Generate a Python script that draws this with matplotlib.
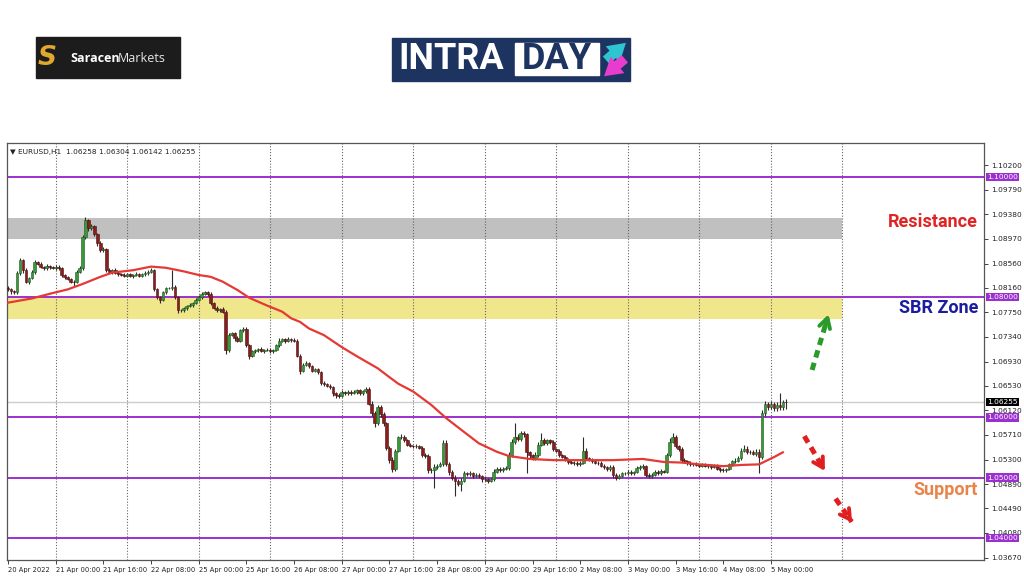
import matplotlib
matplotlib.use('Agg')
import matplotlib.pyplot as plt
from matplotlib.patches import Rectangle, FancyArrowPatch
import numpy as np

# EURUSD H1 closes, in pips (1e-4), one row per 16 bars
closes = [
    10813, 10810, 10808, 10840, 10862, 10845, 10825, 10832, 10842, 10858, 10855, 10850, 10848, 10852, 10850, 10849,
    10851, 10848, 10837, 10833, 10830, 10826, 10825, 10842, 10848, 10900, 10928, 10915, 10918, 10905, 10890, 10878,
    10880, 10845, 10842, 10845, 10840, 10838, 10837, 10836, 10838, 10835, 10837, 10839, 10836, 10838, 10840, 10842,
    10845, 10813, 10800, 10795, 10808, 10815, 10815, 10817, 10800, 10778, 10778, 10782, 10785, 10787, 10790, 10795,
    10800, 10805, 10808, 10805, 10790, 10782, 10778, 10780, 10776, 10712, 10738, 10740, 10732, 10728, 10745, 10748,
    10720, 10703, 10710, 10712, 10714, 10711, 10712, 10713, 10710, 10712, 10720, 10728, 10730, 10727, 10731, 10729,
    10728, 10703, 10678, 10687, 10690, 10685, 10678, 10680, 10675, 10658, 10655, 10653, 10650, 10640, 10637, 10636,
    10642, 10640, 10643, 10641, 10642, 10645, 10640, 10644, 10648, 10623, 10607, 10590, 10617, 10605, 10590, 10550,
    10530, 10515, 10545, 10567, 10568, 10563, 10555, 10553, 10552, 10553, 10550, 10538, 10536, 10512, 10512, 10518,
    10520, 10522, 10557, 10523, 10510, 10500, 10495, 10490, 10495, 10508, 10506, 10508, 10503, 10505, 10502, 10497,
    10498, 10495, 10497, 10510, 10515, 10512, 10515, 10516, 10537, 10560, 10567, 10565, 10574, 10572, 10542, 10537,
    10533, 10538, 10555, 10562, 10558, 10562, 10560, 10548, 10545, 10537, 10535, 10530, 10526, 10524, 10525, 10522,
    10525, 10545, 10532, 10530, 10527, 10525, 10524, 10520, 10517, 10515, 10518, 10505, 10500, 10503, 10507, 10508,
    10510, 10507, 10509, 10516, 10518, 10519, 10505, 10503, 10505, 10510, 10508, 10511, 10510, 10537, 10560, 10567,
    10552, 10548, 10530, 10528, 10524, 10522, 10523, 10521, 10520, 10522, 10519, 10520, 10518, 10520, 10515, 10513,
    10512, 10514, 10522, 10527, 10528, 10532, 10545, 10548, 10543, 10542, 10540, 10543, 10535, 10608, 10622, 10618,
    10622, 10615, 10620, 10618, 10625.8, 10625.5,
]
first_open = 10815

# wick length above body / below body, pips
wick_up = [
    3, 2, 2, 4, 3, 2, 3, 2, 3, 4, 2, 3, 2, 3, 2, 2,
    2, 3, 2, 2, 3, 2, 2, 3, 4, 3, 5, 3, 4, 3, 2, 3,
    4, 2, 3, 2, 3, 2, 2, 3, 2, 3, 2, 3, 2, 2, 3, 4,
    3, 2, 3, 2, 3, 2, 2, 28, 3, 2, 3, 2, 2, 3, 2, 3,
    3, 4, 3, 2, 3, 2, 3, 2, 3, 3, 3, 2, 3, 4, 2, 3,
    3, 2, 3, 2, 2, 3, 2, 2, 3, 2, 3, 4, 3, 2, 3, 2,
    3, 2, 3, 3, 4, 2, 3, 2, 3, 3, 2, 3, 2, 3, 2, 3,
    3, 2, 3, 2, 3, 2, 3, 2, 3, 3, 4, 3, 4, 3, 4, 3,
    3, 4, 3, 3, 4, 3, 2, 3, 2, 3, 2, 3, 3, 3, 4, 4,
    3, 4, 5, 6, 3, 3, 4, 3, 4, 3, 2, 3, 2, 3, 3, 2,
    3, 2, 3, 4, 3, 2, 3, 4, 5, 4, 23, 5, 4, 3, 3, 3,
    3, 4, 4, 13, 4, 3, 3, 3, 2, 3, 2, 3, 2, 3, 2, 3,
    3, 22, 4, 3, 2, 3, 2, 3, 2, 3, 3, 3, 2, 3, 3, 2,
    2, 3, 2, 3, 3, 3, 2, 3, 2, 3, 2, 3, 2, 4, 6, 8,
    4, 3, 3, 3, 2, 3, 2, 3, 2, 3, 2, 3, 2, 2, 3, 2,
    3, 2, 3, 3, 4, 4, 5, 6, 4, 3, 4, 5, 4, 4, 5, 4,
    5, 4, 5, 20, 4, 4.6,
]
wick_dn = [
    3, 4, 3, 2, 3, 4, 2, 3, 2, 3, 2, 2, 3, 2, 3, 2,
    3, 2, 4, 3, 2, 3, 6, 2, 2, 3, 3, 4, 3, 3, 4, 3,
    3, 3, 2, 3, 2, 3, 2, 2, 3, 2, 3, 2, 3, 2, 2, 3,
    2, 3, 3, 5, 2, 3, 2, 3, 3, 4, 3, 2, 3, 2, 3, 2,
    2, 3, 2, 3, 3, 2, 3, 2, 2, 6, 3, 3, 4, 3, 2, 3,
    3, 6, 3, 2, 3, 2, 3, 2, 3, 2, 2, 3, 2, 3, 2, 3,
    3, 3, 5, 3, 2, 3, 3, 2, 3, 4, 3, 2, 3, 4, 5, 3,
    2, 3, 2, 3, 2, 3, 3, 2, 3, 3, 4, 6, 3, 4, 5, 4,
    5, 5, 4, 3, 2, 3, 3, 2, 3, 2, 3, 4, 3, 5, 4, 30,
    4, 3, 3, 4, 5, 4, 25, 4, 12, 3, 4, 3, 3, 2, 3, 4,
    3, 4, 3, 2, 3, 3, 2, 3, 3, 3, 4, 4, 4, 5, 34, 4,
    4, 3, 3, 3, 4, 3, 4, 3, 3, 2, 3, 2, 3, 2, 3, 3,
    3, 3, 3, 2, 3, 2, 3, 3, 3, 4, 4, 5, 4, 3, 2, 3,
    3, 3, 3, 2, 3, 3, 4, 3, 3, 2, 3, 3, 2, 3, 3, 3,
    3, 3, 4, 3, 3, 2, 3, 2, 2, 3, 2, 3, 3, 2, 3, 3,
    3, 3, 2, 3, 3, 2, 3, 3, 4, 3, 3, 4, 27, 4, 6, 5,
    4, 5, 4, 5, 6, 11.3,
]

# red moving average, read at some bars
ma_bars = [0, 8, 15, 20, 25, 31, 35, 42, 48, 53, 59, 64, 68, 72, 77, 81, 87, 92, 95, 98,
           101, 106, 112, 117, 124, 128, 131, 136, 142, 147, 153, 158, 164, 168, 175, 183,
           192, 203, 213, 220, 226, 232, 240, 246, 252, 257, 260]
ma_vals = [10791, 10798, 10807, 10813, 10822, 10834, 10841, 10845, 10851, 10849, 10843, 10837,
           10834, 10826, 10812, 10799, 10786, 10776, 10765, 10759, 10748, 10737, 10717, 10702,
           10682, 10667, 10656, 10643, 10621, 10599, 10576, 10557, 10543, 10536, 10531, 10529,
           10529, 10529, 10531, 10526, 10525, 10522, 10519, 10521, 10522, 10534, 10542]

time_labels = ['20 Apr 2022', '21 Apr 00:00', '21 Apr 16:00', '22 Apr 08:00', '25 Apr 00:00',
               '25 Apr 16:00', '26 Apr 08:00', '27 Apr 00:00', '27 Apr 16:00', '28 Apr 08:00',
               '29 Apr 00:00', '29 Apr 16:00', '2 May 08:00', '3 May 00:00', '3 May 16:00',
               '4 May 08:00', '5 May 00:00']
price_ticks = [1.10200, 1.09790, 1.09380, 1.08970, 1.08560, 1.08160, 1.07750, 1.07340, 1.06930,
               1.06530, 1.06120, 1.05710, 1.05300, 1.04890, 1.04490, 1.04080, 1.03670]
levels = [1.10, 1.08, 1.06, 1.05, 1.04]
last_price = 1.06255
resistance_zone = (1.08969, 1.09318)
sbr_zone = (1.0763, 1.0799)

# dashed scenario arrows: (bar, price) start -> end
green_arrow = [(269.8, 1.0679), (275.6, 1.0776)]
red_arrows = [[(267.2, 1.05690), (274.6, 1.05070)],
              [(277.7, 1.04650), (283.8, 1.04215)]]

PURPLE = '#9b30d0'
NAVY = '#1d3461'


def main():
    c = np.array(closes, dtype=float) / 1e4
    o = np.concatenate([[first_open / 1e4], c[:-1]])
    hi = np.maximum(o, c) + np.array(wick_up) / 1e4
    lo = np.minimum(o, c) - np.array(wick_dn) / 1e4
    idx = np.arange(len(c))

    fig = plt.figure(figsize=(10.24, 5.76), dpi=100)
    ax = fig.add_axes([7 / 1024, 16 / 576, 977 / 1024, 417 / 576])
    ax.set_xlim(-0.34, 327.5)
    ax.set_ylim(1.03629, 1.10566)

    # zones
    ax.fill_between([-1, 280], *resistance_zone, color='#c0c0c0', lw=0, zorder=0)
    ax.fill_between([-1, 280], *sbr_zone, color='#f0e68c', lw=0, zorder=0)

    # dotted time grid
    for b in range(16, 300, 24):
        ax.axvline(b, color='#666666', ls=(0, (1, 1.6)), lw=0.8, zorder=1)

    ax.axhline(last_price, color='#cccccc', lw=1.0, zorder=1)
    for lv in levels:
        ax.axhline(lv, color=PURPLE, lw=1.4, zorder=2)

    # candles
    bull = c >= o
    ax.vlines(idx, lo, hi, color='#2b2b2b', lw=0.8, zorder=3)
    body = np.abs(c - o)
    body = np.where(body < 0.00005, 0.00005, body)
    ax.bar(idx, body, bottom=np.minimum(o, c), width=0.9,
           color=np.where(bull, '#3c963c', '#8a1e1e'), edgecolor=np.where(bull, '#1f5a1f', '#4a1010'),
           linewidth=0.4, zorder=4)

    ax.plot(ma_bars, np.array(ma_vals) / 1e4, color='#e53935', lw=1.6, zorder=5,
            solid_joinstyle='round')

    # arrows
    def dashed_arrow(pts, color):
        (x0, y0), (x1, y1) = pts
        ax.plot([x0, x0 + 0.88 * (x1 - x0)], [y0, y0 + 0.88 * (y1 - y0)],
                color=color, lw=3.6, ls=(0, (1.5, 1.1)), solid_capstyle='butt',
                dash_capstyle='butt', zorder=6)
        ax.annotate('', xy=(x1, y1), xytext=(x0 + 0.72 * (x1 - x0), y0 + 0.72 * (y1 - y0)),
                    arrowprops=dict(arrowstyle='->,head_length=0.7,head_width=0.4',
                                    color=color, lw=2.8), zorder=6)

    dashed_arrow(green_arrow, '#2a9a2a')
    for pts in red_arrows:
        dashed_arrow(pts, '#e02020')

    # axes styling
    for s in ax.spines.values():
        s.set_color('#555555')
        s.set_linewidth(0.9)
    ax.yaxis.tick_right()
    ax.set_yticks(price_ticks)
    ax.set_yticklabels(['%.5f' % t for t in price_ticks])
    ax.set_xticks(range(0, 16 * len(time_labels), 16))
    ax.set_xticklabels(time_labels, ha='left')
    ax.tick_params(axis='y', labelsize=5.3, length=3, width=0.6, colors='#222222', pad=2)
    ax.tick_params(axis='x', labelsize=4.9, length=3, width=0.6, colors='#222222', pad=2)

    for lv in levels:
        ax.text(1.003, lv, '%.5f' % lv, transform=ax.get_yaxis_transform(), fontsize=5.3,
                color='white', va='center', ha='left', zorder=10, clip_on=False,
                bbox=dict(boxstyle='square,pad=0.15', fc=PURPLE, ec='none'))
    ax.text(1.003, last_price, '%.5f' % last_price, transform=ax.get_yaxis_transform(),
            fontsize=5.3, color='white', va='center', ha='left', zorder=10, clip_on=False,
            bbox=dict(boxstyle='square,pad=0.15', fc='black', ec='none'))

    ax.text(0.003, 0.985, '\u25bc EURUSD,H1  1.06258 1.06304 1.06142 1.06255',
            transform=ax.transAxes, fontsize=5.3, va='top', ha='left', color='#222222')

    # zone captions
    fig.text(978 / 1024, 1 - 222 / 576, 'Resistance', color='#e02424', fontsize=13,
             fontweight='bold', family='Roboto', ha='right', va='center')
    fig.text(978 / 1024, 1 - 308 / 576, 'SBR Zone', color='#1c1ca0', fontsize=13,
             fontweight='bold', family='Roboto', ha='right', va='center')
    fig.text(978 / 1024, 1 - 490 / 576, 'Support', color='#e8844a', fontsize=13,
             fontweight='bold', family='Roboto', ha='right', va='center')

    # logos
    fig.add_artist(Rectangle((36 / 1024, 1 - 78 / 576), 144 / 1024, 41 / 576,
                             transform=fig.transFigure, color='#1c1c1c'))
    fig.text(47 / 1024, 1 - 58 / 576, 'S', color='#e0a82e', fontsize=19, fontweight='bold',
             style='italic', ha='center', va='center')
    fig.text(70 / 1024, 1 - 58 / 576, 'Saracen', color='white', fontsize=9, fontweight='bold',
             family='Open Sans', ha='left', va='center')
    fig.text(118 / 1024, 1 - 58 / 576, 'Markets', color='#e8e8e8', fontsize=9,
             family='Open Sans', ha='left', va='center')

    fig.add_artist(Rectangle((392 / 1024, 1 - 81 / 576), 238 / 1024, 43 / 576,
                             transform=fig.transFigure, color=NAVY))
    fig.add_artist(Rectangle((515 / 1024, 1 - 75 / 576), 84 / 1024, 32 / 576,
                             transform=fig.transFigure, color='white'))
    fig.text(451 / 1024, 1 - 59 / 576, 'INTRA', color='white', fontsize=26, fontweight='bold',
             family='Roboto', ha='center', va='center')
    fig.text(557 / 1024, 1 - 59 / 576, 'DAY', color=NAVY, fontsize=26, fontweight='bold',
             family='Roboto', ha='center', va='center')
    for (xa, ya), (xb, yb), col in [((604, 62), (628, 41), '#2ec4d0'),
                                    ((627, 57), (602, 78), '#e83ccf')]:
        fig.add_artist(FancyArrowPatch((xa / 1024, 1 - ya / 576), (xb / 1024, 1 - yb / 576),
                                       transform=fig.transFigure, color=col, lw=0,
                                       arrowstyle='simple,head_length=0.9,head_width=1.1,tail_width=0.5',
                                       mutation_scale=14, zorder=5))

    fig.savefig('out.png', dpi=100, facecolor='white')


if __name__ == '__main__':
    main()
